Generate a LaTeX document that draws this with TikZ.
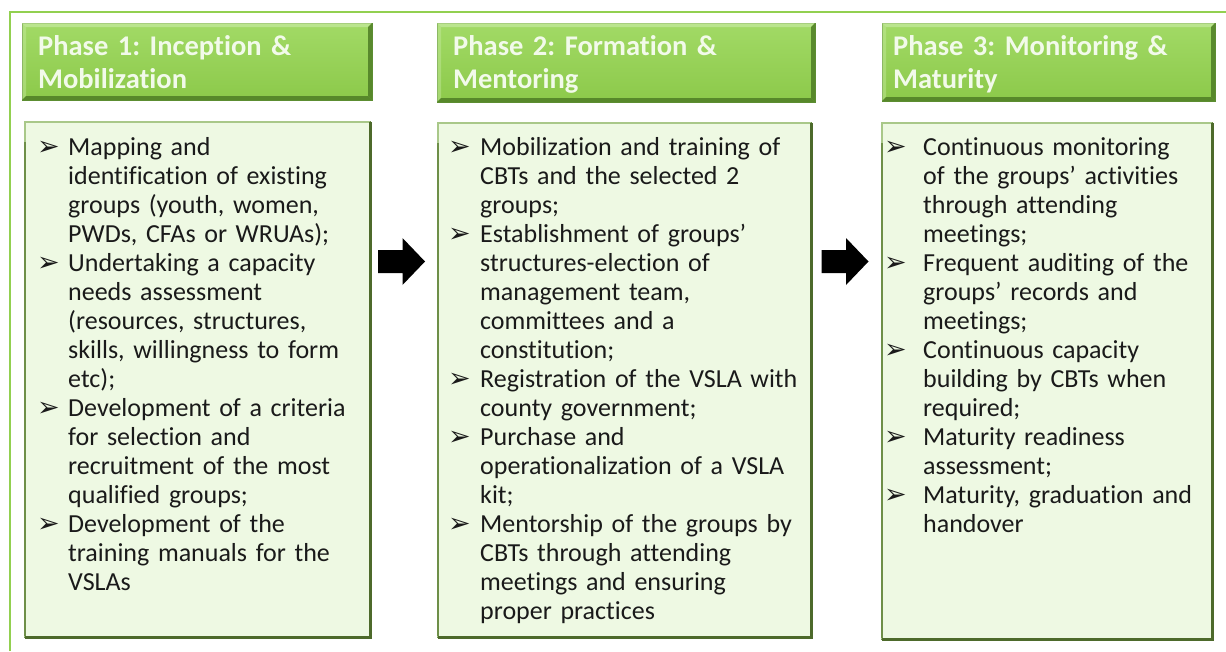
\documentclass[tikz,border=0pt]{standalone}
\usepackage{fontspec}
\setmainfont{Carlito}[RawFeature={-liga;-clig}]
\newfontfamily\dejavu{DejaVu Sans}
\usetikzlibrary{calc}

\definecolor{frameGreen}{HTML}{92D050}
\definecolor{headTop}{HTML}{A2DA66}
\definecolor{headBot}{HTML}{8CC94A}
\definecolor{headDark}{HTML}{4E7D25}
\definecolor{headLight}{HTML}{C6EAA0}
\definecolor{headEdge}{HTML}{5E8F33}
\definecolor{bodyFill}{HTML}{EEF9E3}
\definecolor{bodyEdge}{HTML}{6E8F48}
\definecolor{bodyDark}{HTML}{4D6A2B}
\definecolor{bodyLight}{HTML}{A9C889}
\definecolor{txt}{HTML}{1A1A1A}
\definecolor{titleTxt}{HTML}{F2FAEA}

\pgfdeclarelayer{shadowlayer}
\pgfsetlayers{shadowlayer,main}

% bullet width, set per column
\newlength\hw
\newcommand\bulletmark{\makebox[\hw][l]{\dejavu\fontsize{27}{27}\selectfont ➢}}
\newcommand\bl[1]{\bulletmark#1\par}
\newcommand\cl[1]{\hspace*{\hw}#1\par}

\tikzset{
  headbox/.style={rectangle, inner sep=0, outer sep=0, draw=headEdge, line width=0.8,
    top color=headTop, bottom color=headBot},
  bodybox/.style={rectangle, inner sep=0, outer sep=0, fill=bodyFill, draw=bodyEdge, line width=2.5},
  titletext/.style={anchor=base west, inner sep=0, text width=360, align=left, text=titleTxt,
    font=\fontsize{28.5}{33}\selectfont\bfseries\frenchspacing},
  bodytext/.style={anchor=base west, inner sep=0, text width=400, align=left, text=txt,
    font=\fontsize{26}{29}\selectfont\frenchspacing, execute at begin node={\setlength{\hw}{#1}}},
}

\begin{document}
\begin{tikzpicture}[x=1pt,y=-1pt]
  \fill[white] (0,0) rectangle (1226,651);
  \useasboundingbox (0,0) rectangle (1226,651);

  % outer green frame
  \draw[frameGreen, line width=2] (10,651) -- (10,12) -- (1226,12);

  % phase headers
  \node[headbox, minimum width=350, minimum height=77] (h1) at (197,61.5) {};
  \node[headbox, minimum width=378, minimum height=79] (h2) at (626,62.5) {};
  \node[headbox, minimum width=333, minimum height=78] (h3) at (1048.5,62) {};

  % phase bodies
  \node[bodybox, minimum width=345, minimum height=515] (b1) at (197.5,379.5) {};
  \node[bodybox, minimum width=373, minimum height=514] (b2) at (624.5,380) {};
  \node[bodybox, minimum width=330, minimum height=516] (b3) at (1047,381) {};

  % bevels and shadows
  \foreach \n in {h1,h2,h3} {
    \fill[headLight, opacity=0.7] (\n.north west) -- (\n.north east) -- ($(\n.north east)+(-4,4)$) -- ($(\n.north west)+(4,4)$) -- cycle;
    \fill[headLight, opacity=0.45] (\n.north west) -- ($(\n.north west)+(4,4)$) -- ($(\n.south west)+(4,-4)$) -- (\n.south west) -- cycle;
    \fill[headDark, opacity=0.85] (\n.south west) -- (\n.south east) -- ($(\n.south east)+(-4,-4)$) -- ($(\n.south west)+(4,-4)$) -- cycle;
    \fill[headDark, opacity=0.85] (\n.north east) -- (\n.south east) -- ($(\n.south east)+(-4,-4)$) -- ($(\n.north east)+(-4,4)$) -- cycle;
    \begin{pgfonlayer}{shadowlayer}
      \foreach \d in {1,...,6}
        \fill[black, opacity=0.05] ($(\n.north west)+(2+\d,2+\d)$) rectangle ($(\n.south east)+(\d,\d)$);
    \end{pgfonlayer}
  }
  \foreach \n in {b1,b2,b3} {
    \draw[bodyLight, line width=2.5] (\n.south west) -- (\n.north west) -- (\n.north east);
    \draw[bodyEdge, line width=2] ($(\n.south west)+(0,-1)$) -- ($(\n.north west)+(0,20)$);
    \draw[bodyDark, line width=3] (\n.north east) -- (\n.south east) -- (\n.south west);
    \begin{pgfonlayer}{shadowlayer}
      \foreach \d in {1,...,8}
        \fill[black, opacity=0.045] ($(\n.north west)+(1+\d,1+\d)$) rectangle ($(\n.south east)+(\d,\d)$);
    \end{pgfonlayer}
  }

  % header titles
  \node[titletext] (t1) at (38,55) {Phase 1: Inception \&\\Mobilization};
  \node[titletext] (t2) at (453,55) {Phase 2: Formation \&\\Mentoring};
  \node[titletext] (t3) at (893,55) {Phase 3: Monitoring \&\\Maturity};

  % body texts
  \node[bodytext=31pt] (p1) at (37,155) {%
    \bl{Mapping and}
    \cl{identification of existing}
    \cl{groups (youth, women,}
    \cl{PWDs, CFAs or WRUAs);}
    \bl{Undertaking a capacity}
    \cl{needs assessment}
    \cl{(resources, structures,}
    \cl{skills, willingness to form}
    \cl{etc);}
    \bl{Development of a criteria}
    \cl{for selection and}
    \cl{recruitment of the most}
    \cl{qualified groups;}
    \bl{Development of the}
    \cl{training manuals for the}
    \cl{VSLAs}};
  \node[bodytext=32pt] (p2) at (448,155) {%
    \bl{Mobilization and training of}
    \cl{CBTs and the selected 2}
    \cl{groups;}
    \bl{Establishment of groups’}
    \cl{structures-election of}
    \cl{management team,}
    \cl{committees and a}
    \cl{constitution;}
    \bl{Registration of the VSLA with}
    \cl{county government;}
    \bl{Purchase and}
    \cl{operationalization of a VSLA}
    \cl{kit;}
    \bl{Mentorship of the groups by}
    \cl{CBTs through attending}
    \cl{meetings and ensuring}
    \cl{proper practices}};
  \node[bodytext=39pt] (p3) at (884,155) {%
    \bl{Continuous monitoring}
    \cl{of the groups’ activities}
    \cl{through attending}
    \cl{meetings;}
    \bl{Frequent auditing of the}
    \cl{groups’ records and}
    \cl{meetings;}
    \bl{Continuous capacity}
    \cl{building by CBTs when}
    \cl{required;}
    \bl{Maturity readiness}
    \cl{assessment;}
    \bl{Maturity, graduation and}
    \cl{handover}};

  % block arrows between the phases
  \coordinate (m1) at ($(b1.east)!0.5!(b2.west)$);
  \coordinate (m2) at ($(b2.east)!0.5!(b3.west)$);
  \coordinate (a1) at ($(m1 |- h1.south)+(-2.5,161.5)$);
  \coordinate (a2) at ($(m2 |- h1.south)+(-1.5,161.5)$);
  \foreach \a in {a1,a2}
    \fill[black, shift={(\a)}] (-23.5,-11.5) -- (1,-11.5) -- (1,-23.5) -- (23.5,0)
      -- (1,23.5) -- (1,11.5) -- (-23.5,11.5) -- cycle;
\end{tikzpicture}
\end{document}
